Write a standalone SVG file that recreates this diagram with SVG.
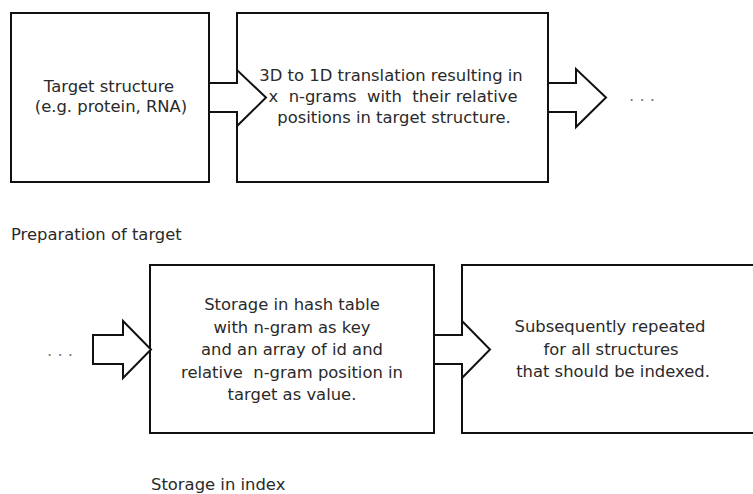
<svg xmlns="http://www.w3.org/2000/svg" width="753" height="494" viewBox="0 0 753 494">
<style>
.box{fill:#fff;stroke:#111;stroke-width:2}
.arr{fill:#fff;stroke:#111;stroke-width:2;stroke-linejoin:miter}
text{font-family:"DejaVu Sans",sans-serif;font-size:16.4px;fill:#2a2a2a;white-space:pre}
.c{text-anchor:middle}
.dots{fill:#777}
</style>
<rect width="753" height="494" fill="#fff"/>
<g id="n1"><rect class="box" x="11" y="13" width="198" height="169"/>
<text class="c" x="109" y="92">Target structure</text>
<text class="c" x="111" y="112">(e.g. protein, RNA)</text></g>
<g id="n2"><rect class="box" x="237" y="13" width="311" height="169"/>
<text class="c" x="391" y="81">3D to 1D translation resulting in</text>
<text class="c" x="393" y="102">x  n-grams  with  their relative</text>
<text class="c" x="394" y="123">positions in target structure.</text></g>
<g id="n3"><rect class="box" x="150" y="265" width="284" height="168"/>
<text class="c" x="292" y="310">Storage in hash table</text>
<text class="c" x="292" y="332.5">with n-gram as key</text>
<text class="c" x="292" y="355">and an array of id and</text>
<text class="c" x="292" y="377.5">relative  n-gram position in</text>
<text class="c" x="292" y="400">target as value.</text></g>
<g id="n4"><rect class="box" x="462" y="265" width="300" height="168"/>
<text class="c" x="610" y="332">Subsequently repeated</text>
<text class="c" x="611" y="354.5">for all structures</text>
<text class="c" x="613" y="377">that should be indexed.</text></g>
<g id="connectors">
<polygon class="arr" points="209,83 237,83 237,70 266,97.5 237,126 237,112 209,112"/>
<polygon class="arr" points="548,83 576,83 576,69 606,97.5 576,127 576,112 548,112"/>
<polygon class="arr" points="93,335 123,335 123,321 151,349.5 123,378 123,364 93,364"/>
<polygon class="arr" points="434,335 462,335 462,321 490,349.5 462,378 462,364 434,364"/>
</g>
<g id="labels">
<text class="dots" x="629" y="101">. . .</text>
<text class="dots" x="47" y="356">. . .</text>
<text x="11" y="240">Preparation of target</text>
<text x="151" y="490">Storage in index</text>
</g>
</svg>
